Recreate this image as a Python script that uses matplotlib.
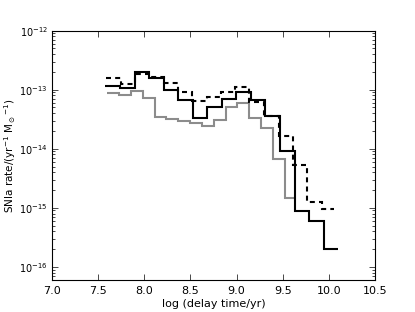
import numpy as np
import matplotlib
matplotlib.use('Agg')
from matplotlib import pyplot as plt

# bin edges in log(delay time/yr) and rates per bin
edges_solid = [7.58, 7.7375, 7.895, 8.0525, 8.21, 8.3675, 8.525, 8.6825, 8.84,
               8.9975, 9.155, 9.3125, 9.47, 9.6275, 9.785, 9.9425, 10.1]
rate_solid = [1.17e-13, 1.08e-13, 2.0e-13, 1.6e-13, 1.0e-13, 6.8e-14, 3.35e-14, 5.0e-14,
              7.0e-14, 9.2e-14, 6.8e-14, 3.6e-14, 9.3e-15, 8.9e-16, 6.0e-16, 2.0e-16]

edges_dash = [7.59, 7.75, 7.905, 8.06, 8.215, 8.37, 8.52, 8.675, 8.83,
              8.985, 9.13, 9.3, 9.46, 9.61, 9.76, 9.92, 10.05]
rate_dash = [1.6e-13, 1.26e-13, 1.87e-13, 1.66e-13, 1.32e-13, 9.2e-14, 6.5e-14, 7.6e-14,
             9.2e-14, 1.12e-13, 6.3e-14, 3.6e-14, 1.66e-14, 5.4e-15, 1.26e-15, 9.6e-16]

edges_gray = [7.6, 7.728, 7.856, 7.984, 8.112, 8.24, 8.368, 8.496, 8.624,
              8.752, 8.88, 9.008, 9.136, 9.264, 9.392, 9.52, 9.648]
rate_gray = [8.9e-14, 8.2e-14, 9.6e-14, 7.3e-14, 3.5e-14, 3.2e-14, 3.0e-14, 2.75e-14,
             2.45e-14, 3.1e-14, 5.0e-14, 6.0e-14, 3.35e-14, 2.27e-14, 6.8e-15, 1.48e-15]

xticks = [7.0, 7.5, 8.0, 8.5, 9.0, 9.5, 10.0, 10.5]

plt.rcParams['font.family'] = 'DejaVu Sans'
plt.rcParams['mathtext.fontset'] = 'dejavusans'
plt.rcParams['font.size'] = 8

fig = plt.figure(figsize=(4.15, 3.124), dpi=100)
ax = fig.add_axes([0.125, 0.1026, 0.779, 0.7981])

ax.stairs(rate_gray, edges_gray, baseline=None, color='#8c8c8c', lw=1.5)
ax.stairs(rate_solid, edges_solid, baseline=None, color='black', lw=1.5)
ax.stairs(rate_dash, edges_dash, baseline=None, color='black', lw=1.5,
          linestyle=(0, (2.4, 2.0)))

ax.set_yscale('log')
ax.set_xlim(7.0, 10.5)
ax.set_ylim(6e-17, 1e-12)
ax.set_xticks(xticks)
ax.set_xticklabels(['%.1f' % t for t in xticks])

ax.tick_params(which='both', direction='in', top=True, right=True, labelsize=8)
ax.tick_params(which='major', length=4, width=0.5, pad=4)
ax.tick_params(which='minor', length=2, width=0.5)
ax.tick_params(axis='y', labelsize=7, pad=3)
for s in ax.spines.values():
    s.set_linewidth(0.8)

ax.set_xlabel('log (delay time/yr)', fontsize=8, labelpad=2)
ax.set_ylabel(r'SNIa rate/(yr$^{-1}$ M$_\odot$$^{-1}$)', fontsize=7.5)
ax.yaxis.set_label_coords(-0.106, 0.5)

fig.savefig('out.png', dpi=100, facecolor='white')
